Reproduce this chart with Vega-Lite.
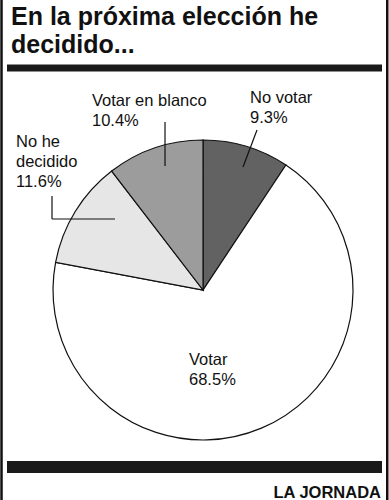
{
  "$schema": "https://vega.github.io/schema/vega-lite/v6.json",
  "width": 389,
  "height": 500,
  "autosize": {"type": "none"},
  "padding": 0,
  "background": "white",
  "config": {"view": {"stroke": null}, "text": {"font": "Liberation Sans"}},
  "datasets": {
    "votos": [
      {"n": 1, "categoria": "No votar", "etiqueta": "No votar", "pct": 9.3},
      {"n": 2, "categoria": "Votar", "etiqueta": "Votar", "pct": 68.5},
      {"n": 3, "categoria": "No he decidido", "etiqueta": "No he\ndecidido", "pct": 11.6},
      {"n": 4, "categoria": "Votar en blanco", "etiqueta": "Votar en blanco", "pct": 10.4}
    ],
    "uno": [{"k": 1}]
  },
  "data": {"name": "votos"},
  "transform": [
    {"calculate": "datum.etiqueta + '\\n' + format(datum.pct, '.1f') + '%'", "as": "texto"}
  ],
  "layer": [
    {
      "mark": {"type": "arc", "radius": 150, "stroke": "#111111", "strokeWidth": 1.2},
      "encoding": {
        "theta": {"field": "pct", "type": "quantitative", "stack": true},
        "order": {"field": "n", "type": "quantitative"},
        "color": {
          "field": "categoria",
          "type": "nominal",
          "scale": {
            "domain": ["No votar", "Votar", "No he decidido", "Votar en blanco"],
            "range": ["#626262", "#ffffff", "#e6e6e6", "#9c9c9c"]
          },
          "legend": null
        },
        "x": {"datum": 52.19, "type": "quantitative", "scale": {"domain": [0, 100], "nice": false, "zero": false}, "axis": null},
        "y": {"datum": 58, "type": "quantitative", "scale": {"domain": [0, 100], "nice": false, "zero": false, "reverse": true}, "axis": null}
      }
    },
    {
      "transform": [{"filter": "datum.categoria === 'No votar'"}],
      "mark": {"type": "text", "align": "left", "baseline": "alphabetic", "fontSize": 16.5, "lineHeight": 20, "lineBreak": "\n", "color": "#111111"},
      "encoding": {
        "text": {"field": "texto"},
        "x": {"datum": 64.27, "type": "quantitative", "scale": {"domain": [0, 100], "nice": false, "zero": false}, "axis": null},
        "y": {"datum": 20.6, "type": "quantitative", "scale": {"domain": [0, 100], "nice": false, "zero": false, "reverse": true}, "axis": null}
      }
    },
    {
      "transform": [{"filter": "datum.categoria === 'Votar en blanco'"}],
      "mark": {"type": "text", "align": "left", "baseline": "alphabetic", "fontSize": 16.5, "lineHeight": 20, "lineBreak": "\n", "color": "#111111"},
      "encoding": {
        "text": {"field": "texto"},
        "x": {"datum": 23.65, "type": "quantitative", "scale": {"domain": [0, 100], "nice": false, "zero": false}, "axis": null},
        "y": {"datum": 21.2, "type": "quantitative", "scale": {"domain": [0, 100], "nice": false, "zero": false, "reverse": true}, "axis": null}
      }
    },
    {
      "transform": [{"filter": "datum.categoria === 'No he decidido'"}],
      "mark": {"type": "text", "align": "left", "baseline": "alphabetic", "fontSize": 16.5, "lineHeight": 20, "lineBreak": "\n", "color": "#111111"},
      "encoding": {
        "text": {"field": "texto"},
        "x": {"datum": 4.11, "type": "quantitative", "scale": {"domain": [0, 100], "nice": false, "zero": false}, "axis": null},
        "y": {"datum": 29.4, "type": "quantitative", "scale": {"domain": [0, 100], "nice": false, "zero": false, "reverse": true}, "axis": null}
      }
    },
    {
      "transform": [{"filter": "datum.categoria === 'Votar'"}],
      "mark": {"type": "text", "align": "left", "baseline": "alphabetic", "fontSize": 16.5, "lineHeight": 20, "lineBreak": "\n", "color": "#111111"},
      "encoding": {
        "text": {"field": "texto"},
        "x": {"datum": 48.59, "type": "quantitative", "scale": {"domain": [0, 100], "nice": false, "zero": false}, "axis": null},
        "y": {"datum": 73, "type": "quantitative", "scale": {"domain": [0, 100], "nice": false, "zero": false, "reverse": true}, "axis": null}
      }
    },
    {
      "data": {"name": "uno"},
      "layer": [
        {
          "mark": {"type": "rule", "color": "#111111", "strokeWidth": 1.2},
          "encoding": {
            "x": {"datum": 66.07, "type": "quantitative", "scale": {"domain": [0, 100], "nice": false, "zero": false}, "axis": null},
            "x2": {"datum": 62.47},
            "y": {"datum": 26, "type": "quantitative", "scale": {"domain": [0, 100], "nice": false, "zero": false, "reverse": true}, "axis": null},
            "y2": {"datum": 33.4}
          }
        },
        {
          "mark": {"type": "rule", "color": "#111111", "strokeWidth": 1.2},
          "encoding": {
            "x": {"datum": 42.42, "type": "quantitative", "scale": {"domain": [0, 100], "nice": false, "zero": false}, "axis": null},
            "y": {"datum": 24.4, "type": "quantitative", "scale": {"domain": [0, 100], "nice": false, "zero": false, "reverse": true}, "axis": null},
            "y2": {"datum": 33.2}
          }
        },
        {
          "mark": {"type": "rule", "color": "#111111", "strokeWidth": 1.2},
          "encoding": {
            "x": {"datum": 13.37, "type": "quantitative", "scale": {"domain": [0, 100], "nice": false, "zero": false}, "axis": null},
            "y": {"datum": 39.2, "type": "quantitative", "scale": {"domain": [0, 100], "nice": false, "zero": false, "reverse": true}, "axis": null},
            "y2": {"datum": 43.8}
          }
        },
        {
          "mark": {"type": "rule", "color": "#111111", "strokeWidth": 1.2},
          "encoding": {
            "x": {"datum": 13.37, "type": "quantitative", "scale": {"domain": [0, 100], "nice": false, "zero": false}, "axis": null},
            "x2": {"datum": 29.56},
            "y": {"datum": 43.8, "type": "quantitative", "scale": {"domain": [0, 100], "nice": false, "zero": false, "reverse": true}, "axis": null}
          }
        },
        {
          "mark": {"type": "rule", "color": "#1a1a1a", "strokeWidth": 7},
          "encoding": {
            "x": {"datum": 1.8, "type": "quantitative", "scale": {"domain": [0, 100], "nice": false, "zero": false}, "axis": null},
            "x2": {"datum": 98.2},
            "y": {"datum": 13.6, "type": "quantitative", "scale": {"domain": [0, 100], "nice": false, "zero": false, "reverse": true}, "axis": null}
          }
        },
        {
          "mark": {"type": "rule", "color": "#1a1a1a", "strokeWidth": 12},
          "encoding": {
            "x": {"datum": 1.8, "type": "quantitative", "scale": {"domain": [0, 100], "nice": false, "zero": false}, "axis": null},
            "x2": {"datum": 98.2},
            "y": {"datum": 93.4, "type": "quantitative", "scale": {"domain": [0, 100], "nice": false, "zero": false, "reverse": true}, "axis": null}
          }
        },
        {
          "mark": {"type": "rule", "color": "#111111", "strokeWidth": 2.5},
          "encoding": {
            "x": {"datum": 0.39, "type": "quantitative", "scale": {"domain": [0, 100], "nice": false, "zero": false}, "axis": null},
            "y": {"datum": 0, "type": "quantitative", "scale": {"domain": [0, 100], "nice": false, "zero": false, "reverse": true}, "axis": null},
            "y2": {"datum": 100}
          }
        },
        {
          "mark": {"type": "rule", "color": "#111111", "strokeWidth": 2.5},
          "encoding": {
            "x": {"datum": 99.55, "type": "quantitative", "scale": {"domain": [0, 100], "nice": false, "zero": false}, "axis": null},
            "y": {"datum": 0, "type": "quantitative", "scale": {"domain": [0, 100], "nice": false, "zero": false, "reverse": true}, "axis": null},
            "y2": {"datum": 100}
          }
        },
        {
          "mark": {"type": "text", "align": "left", "baseline": "alphabetic", "fontSize": 25, "fontWeight": "bold", "lineHeight": 28, "color": "#111111"},
          "encoding": {
            "text": {"value": ["En la próxima elección he", "decidido..."]},
            "x": {"datum": 2.83, "type": "quantitative", "scale": {"domain": [0, 100], "nice": false, "zero": false}, "axis": null},
            "y": {"datum": 5.0, "type": "quantitative", "scale": {"domain": [0, 100], "nice": false, "zero": false, "reverse": true}, "axis": null}
          }
        },
        {
          "mark": {"type": "text", "align": "right", "baseline": "alphabetic", "fontSize": 16.5, "fontWeight": "bold", "color": "#111111"},
          "encoding": {
            "text": {"value": "LA JORNADA"},
            "x": {"datum": 97.94, "type": "quantitative", "scale": {"domain": [0, 100], "nice": false, "zero": false}, "axis": null},
            "y": {"datum": 99.6, "type": "quantitative", "scale": {"domain": [0, 100], "nice": false, "zero": false, "reverse": true}, "axis": null}
          }
        }
      ]
    }
  ]
}
